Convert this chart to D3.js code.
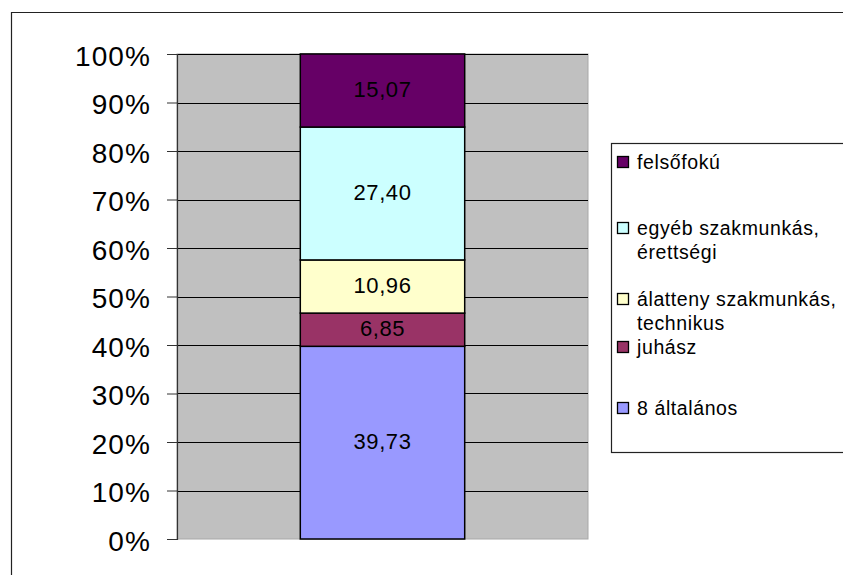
<!DOCTYPE html>
<html>
<head>
<meta charset="utf-8">
<script src="https://cdn.jsdelivr.net/npm/d3@7"></script>
<style>
  html, body { margin: 0; padding: 0; background: #fff; }
  svg { display: block; font-family: "Liberation Sans", Arial, sans-serif; }
</style>
</head>
<body>
<svg id="chart" width="843" height="575"></svg>
<script>
// ---- data ----
const categories = ["1"];
const seriesNames = ["8 általános", "juhász", "álatteny szakmunkás, technikus", "egyéb szakmunkás, érettségi", "felsőfokú"];
const seriesValues = [39.73, 6.85, 10.96, 27.40, 15.07];
const seriesLabels = ["39,73", "6,85", "10,96", "27,40", "15,07"];
const seriesColors = ["#9999FF", "#993366", "#FFFFCC", "#CCFFFF", "#660066"];
const tickValues = [0, 10, 20, 30, 40, 50, 60, 70, 80, 90, 100];
const tickLabels = ["0%", "10%", "20%", "30%", "40%", "50%", "60%", "70%", "80%", "90%", "100%"];
// legend entries (top to bottom) with their text lines
const legendOrder = [4, 3, 2, 1, 0];
const legendLines = [["felsőfokú"], ["egyéb szakmunkás,", "érettségi"], ["álatteny szakmunkás,", "technikus"], ["juhász"], ["8 általános"]];

// ---- layout ----
const plot = { left: 177, right: 588, top: 54, bottom: 539 };
const legendRowY = [162, 228, 299, 347, 408];
const legendLineGap = 24;

const svg = d3.select("#chart");

// outer chart border
svg.append("path")
  .attr("d", "M11.5,575 L11.5,12.5 L843,12.5")
  .attr("fill", "none").attr("stroke", "#222").attr("stroke-width", 1.2);

const y = d3.scaleLinear().domain([0, 100]).range([plot.bottom, plot.top]);
const x = d3.scaleBand().domain(categories).range([plot.left, plot.right]).paddingInner(0.6).paddingOuter(0.3);

// plot area background
svg.append("rect")
  .attr("x", plot.left).attr("y", plot.top)
  .attr("width", plot.right - plot.left).attr("height", plot.bottom - plot.top)
  .attr("fill", "#C0C0C0").attr("stroke", "#A8A8A8").attr("stroke-width", 1);

// gridlines
svg.append("g").selectAll("line").data(tickValues.filter(v => v > 0)).join("line")
  .attr("x1", plot.left).attr("x2", plot.right)
  .attr("y1", d => Math.round(y(d)) + 0.5).attr("y2", d => Math.round(y(d)) + 0.5)
  .attr("stroke", "#000").attr("stroke-width", 1);

// y axis
const yAxis = d3.axisLeft(y).tickValues(tickValues)
  .tickFormat((d, i) => tickLabels[i]).tickSize(10).tickPadding(16);
const gy = svg.append("g").attr("transform", `translate(${plot.left},0)`).call(yAxis);
gy.select(".domain").attr("stroke", "#333").attr("stroke-width", 1.2);
gy.selectAll(".tick line").attr("stroke", "#333");
gy.selectAll(".tick text")
  .attr("fill", "#000").attr("font-size", 28).attr("letter-spacing", 1.1)
  .attr("dy", "0.4em")
  .attr("font-family", "'Liberation Sans', Arial, sans-serif");

// stacked segments
const stackData = [Object.fromEntries(seriesNames.map((n, i) => [n, seriesValues[i]]))];
const stacked = d3.stack().keys(seriesNames)(stackData);

const barX = x(categories[0]);
const barW = x.bandwidth();

const seg = svg.append("g").selectAll("g").data(stacked).join("g");
seg.append("rect")
  .attr("x", barX).attr("width", barW)
  .attr("y", d => y(d[0][1])).attr("height", d => y(d[0][0]) - y(d[0][1]))
  .attr("fill", (d, i) => seriesColors[i])
  .attr("stroke", "#000").attr("stroke-width", 1.5);
seg.append("text")
  .attr("x", barX + barW / 2)
  .attr("y", d => (y(d[0][0]) + y(d[0][1])) / 2 - 1)
  .attr("text-anchor", "middle").attr("dominant-baseline", "central")
  .attr("font-size", 22).attr("letter-spacing", 0.6).attr("fill", "#000")
  .text((d, i) => seriesLabels[i]);

// legend
svg.append("rect")
  .attr("x", 611.5).attr("y", 143.5).attr("width", 260).attr("height", 309)
  .attr("fill", "#fff").attr("stroke", "#222").attr("stroke-width", 1.2);

const lg = svg.append("g").selectAll("g").data(legendOrder).join("g")
  .attr("transform", (d, i) => `translate(0,${legendRowY[i]})`);
lg.append("rect")
  .attr("x", 617.5).attr("y", -5.5).attr("width", 11).attr("height", 11)
  .attr("fill", d => seriesColors[d]).attr("stroke", "#000").attr("stroke-width", 1.3);
lg.each(function(d, i) {
  d3.select(this).selectAll("text").data(legendLines[i]).join("text")
    .attr("x", 637).attr("y", (t, j) => j * legendLineGap)
    .attr("dominant-baseline", "central")
    .attr("font-size", 19.5).attr("letter-spacing", 0.6).attr("fill", "#000")
    .text(t => t);
});
</script>
</body>
</html>
